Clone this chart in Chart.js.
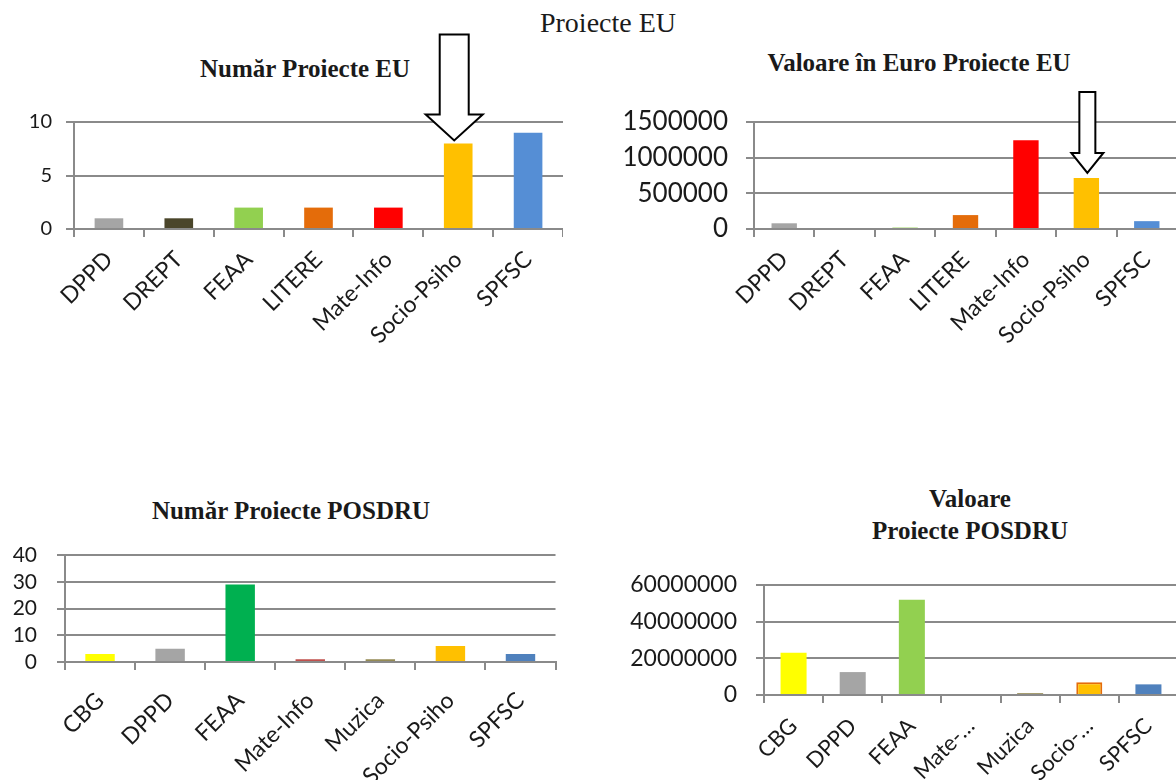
<!DOCTYPE html>
<html>
<head>
<meta charset="utf-8">
<script src="https://cdn.jsdelivr.net/npm/chart.js@4.4.1/dist/chart.umd.min.js"></script>
<style>
  html, body { margin:0; padding:0; background:#fff; }
  body { width:1176px; height:780px; overflow:hidden; position:relative; }
  .ttl { position:absolute; font-family:"Liberation Serif","Times New Roman",serif; color:#1a1a1a; white-space:nowrap; transform:translate(-50%,-50%); line-height:1; }
  .sub { font-weight:bold; font-size:25px; }
  .box { position:absolute; }
</style>
</head>
<body>
<div class="ttl" style="left:608px;top:23px;font-size:28px;">Proiecte EU</div>
<div class="ttl sub" style="left:305px;top:68px;">Număr Proiecte EU</div>
<div class="ttl sub" style="left:919px;top:62px;">Valoare în Euro Proiecte EU</div>
<div class="ttl sub" style="left:291px;top:510px;">Număr Proiecte POSDRU</div>
<div class="ttl sub" style="left:970px;top:498px;">Valoare</div>
<div class="ttl sub" style="left:970px;top:530px;">Proiecte POSDRU</div>

<div class="box" id="b1" style="left:4px;top:20px;width:559px;height:339px;"><canvas id="c1"></canvas></div>
<div class="box" id="b2" style="left:614px;top:60px;width:563px;height:299px;"><canvas id="c2"></canvas></div>
<div class="box" id="b3" style="left:5px;top:505px;width:552px;height:287px;"><canvas id="c3"></canvas></div>
<div class="box" id="b4" style="left:624px;top:535px;width:554px;height:280px;"><canvas id="c4"></canvas></div>

<script>
// ---- data ----
const catsEU = ['DPPD','DREPT','FEAA','LITERE','Mate-Info','Socio-Psiho','SPFSC'];
const nrEU = [1, 1, 2, 2, 2, 8, 9];
const valEU = [80000, 0, 20000, 195000, 1245000, 715000, 110000];
const colsEU = ['#a5a5a5','#4a452a','#92d050','#e46c0a','#ff0000','#ffc000','#558ed5'];

const catsPOS = ['CBG','DPPD','FEAA','Mate-Info','Muzica','Socio-Psiho','SPFSC'];
const catsPOSval = ['CBG','DPPD','FEAA','Mate-…','Muzica','Socio-…','SPFSC'];
const nrPOS = [3, 5, 29, 1, 1, 6, 3];
const valPOS = [23000000, 12500000, 52000000, 0, 1000000, 7000000, 5800000];
const colsPOSnr = ['#ffff00','#a5a5a5','#00b050','#c0504d','#948a54','#ffc000','#4f81bd'];
const colsPOSval = ['#ffff00','#a5a5a5','#92d050','#c0504d','#948a54','#ffc000','#4f81bd'];
const bordPOSval = [0, 0, 0, 0, 0, 2, 0];
const bordColPOSval = ['#000','#000','#000','#000','#000','#e46c0a','#000'];

const yTicksNrEU = {max:10, step:5};
const yTicksValEU = {max:1500000, step:500000};
const yTicksNrPOS = {max:40, step:10};
const yTicksValPOS = {max:60000000, step:20000000};

// ---- arrow annotation anchored on a bar ----
const arrowPlugin = {
  id: 'arrowMark',
  afterDatasetsDraw(chart, args, o) {
    if (o == null || o.index == null) return;
    const bar = chart.getDatasetMeta(0).data[o.index];
    const ctx = chart.ctx;
    const x = bar.x + (o.dx || 0);
    const tip = bar.y - o.gap;
    const hb = tip - o.headH;
    const top = hb - o.shaftH;
    const sw = o.shaftW / 2, hw = o.headW / 2;
    ctx.save();
    ctx.beginPath();
    ctx.moveTo(x - sw, top); ctx.lineTo(x + sw, top); ctx.lineTo(x + sw, hb);
    ctx.lineTo(x + hw, hb); ctx.lineTo(x, tip); ctx.lineTo(x - hw, hb);
    ctx.lineTo(x - sw, hb); ctx.closePath();
    ctx.fillStyle = '#ffffff'; ctx.fill();
    ctx.lineWidth = 2; ctx.strokeStyle = '#000'; ctx.lineJoin = 'miter'; ctx.stroke();
    ctx.restore();
  }
};

const GRID = '#8a8a8a';
const FONT = 'Lato, "Open Sans", sans-serif';

function makeChart(id, cats, vals, cols, cfg) {
  const plugins = cfg.arrow ? [arrowPlugin] : [];
  return new Chart(document.getElementById(id), {
    type: 'bar',
    data: { labels: cats, datasets: [{
      data: vals, backgroundColor: cols,
      borderWidth: cfg.borderWidth || 0, borderColor: cfg.borderColor || '#000',
      categoryPercentage: 1, barPercentage: cfg.barPct
    }]},
    plugins: plugins,
    options: {
      responsive: true, maintainAspectRatio: false, animation: false,
      layout: { padding: { top: cfg.padTop, left: 0, right: 0, bottom: 0 } },
      plugins: {
        legend: { display: false }, tooltip: { enabled: false }, title: { display: false },
        arrowMark: cfg.arrow || {}
      },
      scales: {
        x: {
          offset: true,
          grid: { display: true, drawOnChartArea: false, drawTicks: true, tickLength: 8, offset: true, color: GRID, lineWidth: 2 },
          border: { display: true, color: GRID, width: 2 },
          ticks: { autoSkip: false, minRotation: 45, maxRotation: 45, padding: cfg.xPad, color: '#1a1a1a',
                   font: { family: FONT, size: cfg.xFont } },
          afterFit: s => { s.height = cfg.xH; }
        },
        y: {
          min: 0, max: cfg.y.max,
          grid: { color: GRID, lineWidth: 2, drawTicks: true, tickLength: 8 },
          border: { display: true, color: GRID, width: 2 },
          ticks: { stepSize: cfg.y.step, autoSkip: false, padding: cfg.yPad, color: '#1a1a1a',
                   font: { family: FONT, size: cfg.yFont },
                   callback: v => String(v) },
          afterFit: s => { s.width = cfg.yW; }
        }
      }
    }
  });
}

makeChart('c1', catsEU, nrEU, colsEU, {
  barPct: 0.41, padTop: 102, yW: 70, xH: 130, xPad: 9, xFont: 23, yFont: 20, yPad: 14, y: yTicksNrEU,
  arrow: { index: 5, gap: 3, headH: 26, shaftH: 80, shaftW: 29, headW: 57, dx: -4 }
});
makeChart('c2', catsEU, valEU, colsEU, {
  barPct: 0.42, padTop: 62, yW: 140, xH: 130, xPad: 9, xFont: 23, yFont: 26, yPad: 18, y: yTicksValEU,
  arrow: { index: 5, gap: 5, headH: 20, shaftH: 61, shaftW: 16, headW: 32, dx: 1 }
});
makeChart('c3', catsPOS, nrPOS, colsPOSnr, {
  barPct: 0.42, padTop: 50, yW: 60, xH: 130, xPad: 17, xFont: 23, yFont: 21, yPad: 20, y: yTicksNrPOS
});
makeChart('c4', catsPOSval, valPOS, colsPOSval, {
  barPct: 0.44, padTop: 50, yW: 140, xH: 120, xPad: 10, xFont: 22, yFont: 23, yPad: 19, y: yTicksValPOS,
  borderWidth: bordPOSval, borderColor: bordColPOSval
});
</script>
</body>
</html>
